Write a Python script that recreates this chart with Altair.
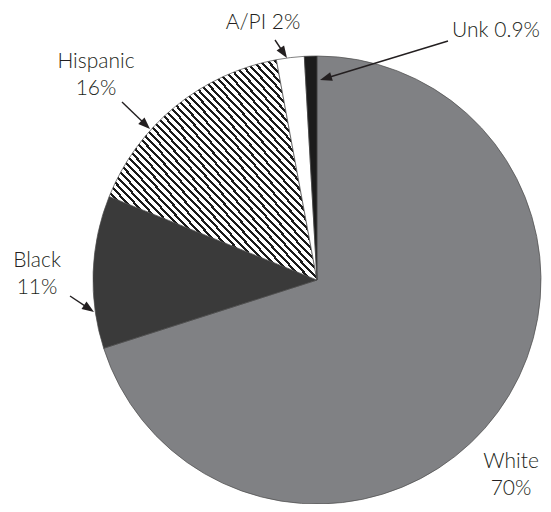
import math
import altair as alt
import pandas as pd

# ---- data ----
groups = ["White", "Black", "Hispanic", "A/PI", "Unk"]
percents = [70, 11, 16, 2, 0.9]
two_line = [True, True, True, False, False]

# ---- styles ----
slice_colors = {"White": "#808184", "Black": "#3a3a3a", "A/PI": "#ffffff", "Unk": "#1c1c1c"}
text_color = "#231f20"
FONT = "Lato"

# layout (page pixel coordinates); the view origin is at page (8+PAD_L, 8+PAD_T)
PAD_L, PAD_T, PAD_R, PAD_B = 85, 48, 2, 0
SIZE = 448
OX, OY = 8 + PAD_L, 8 + PAD_T

label_pos = {  # text centre x, first baseline y
    "White": (511, 468),
    "Black": (37, 267),
    "Hispanic": (96, 68),
    "A/PI": (263, 29),
    "Unk": (496, 37),
}
arrow_pos = {  # start (x, y) -> tip (x, y)
    "Black": ((70, 296), (94, 312)),
    "Hispanic": ((122, 102), (150, 129)),
    "A/PI": ((275, 40), (287, 58)),
    "Unk": ((448, 41), (320, 80)),
}
HEAD = 6  # half-size of arrow head

# ---- tables ----
pie_df = pd.DataFrame({"group": groups, "pct": percents, "idx": list(range(len(groups)))})

labels = []
for g, p, tl in zip(groups, percents, two_line):
    txt = f"{g}\n{p:g}%" if tl else f"{g} {p:g}%"
    x, y = label_pos[g]
    labels.append({"label": txt, "lx": x - OX, "ly": y - OY})
label_df = pd.DataFrame(labels)

rules, heads = [], []
for g, ((x1, y1), (x2, y2)) in arrow_pos.items():
    dx, dy = x2 - x1, y2 - y1
    L = math.hypot(dx, dy)
    ux, uy = dx / L, dy / L
    cx, cy = x2 - ux * HEAD, y2 - uy * HEAD
    ang = math.degrees(math.atan2(dx, -dy)) % 360
    rules.append({"x1": x1 - OX, "y1": y1 - OY, "x2": cx - OX, "y2": cy - OY})
    heads.append({"hx": cx - OX, "hy": cy - OY, "ang": ang})
rule_df = pd.DataFrame(rules)
head_df = pd.DataFrame(heads)

# hatch pattern as a striped linear gradient
N = 56
stops = []
for i in range(N):
    a = i / N
    b = (i + 0.4) / N
    c = (i + 1) / N
    stops += [
        {"offset": round(a, 5), "color": "#1a1a1a"},
        {"offset": round(b, 5), "color": "#1a1a1a"},
        {"offset": round(b, 5), "color": "#ffffff"},
        {"offset": round(c, 5), "color": "#ffffff"},
    ]
hatch = {"gradient": "linear", "x1": 0, "y1": 1, "x2": 1, "y2": 0, "stops": stops}

dom = [g for g in groups if g in slice_colors]
rng = [slice_colors[g] for g in dom]

pie = alt.Chart(pie_df).mark_arc(stroke="#4a4a4a", strokeWidth=0.7).encode(
    theta=alt.Theta("pct:Q", stack=True),
    order=alt.Order("idx:Q"),
    color=alt.condition(
        "datum.group === 'Hispanic'",
        alt.value(hatch),
        alt.Color("group:N", scale=alt.Scale(domain=dom, range=rng), legend=None),
    ),
)

arrow_lines = alt.Chart(rule_df).mark_rule(color=text_color, strokeWidth=1.4).encode(
    x=alt.X("x1:Q", scale=None, axis=None),
    y=alt.Y("y1:Q", scale=None, axis=None),
    x2="x2:Q",
    y2="y2:Q",
)

arrow_heads = alt.Chart(head_df).mark_point(
    shape="M0,-1L0.75,1L-0.75,1Z", filled=True, size=(2 * HEAD) ** 2, color=text_color, opacity=1
).encode(
    x=alt.X("hx:Q", scale=None, axis=None),
    y=alt.Y("hy:Q", scale=None, axis=None),
    angle=alt.Angle("ang:Q", scale=None),
)

texts = alt.Chart(label_df).mark_text(
    font=FONT, fontSize=21, fontWeight=300, lineBreak="\n", lineHeight=27, baseline="alphabetic",
    align="center", color=text_color,
).encode(
    x=alt.X("lx:Q", scale=None, axis=None),
    y=alt.Y("ly:Q", scale=None, axis=None),
    text="label:N",
)

chart = alt.layer(pie, arrow_lines, arrow_heads, texts).properties(
    width=SIZE,
    height=SIZE,
    padding={"left": PAD_L, "top": PAD_T, "right": PAD_R, "bottom": PAD_B},
    autosize="none",
    background="white",
).configure_view(stroke=None)

chart.save("out.html", embed_options={"renderer": "svg", "actions": False})
